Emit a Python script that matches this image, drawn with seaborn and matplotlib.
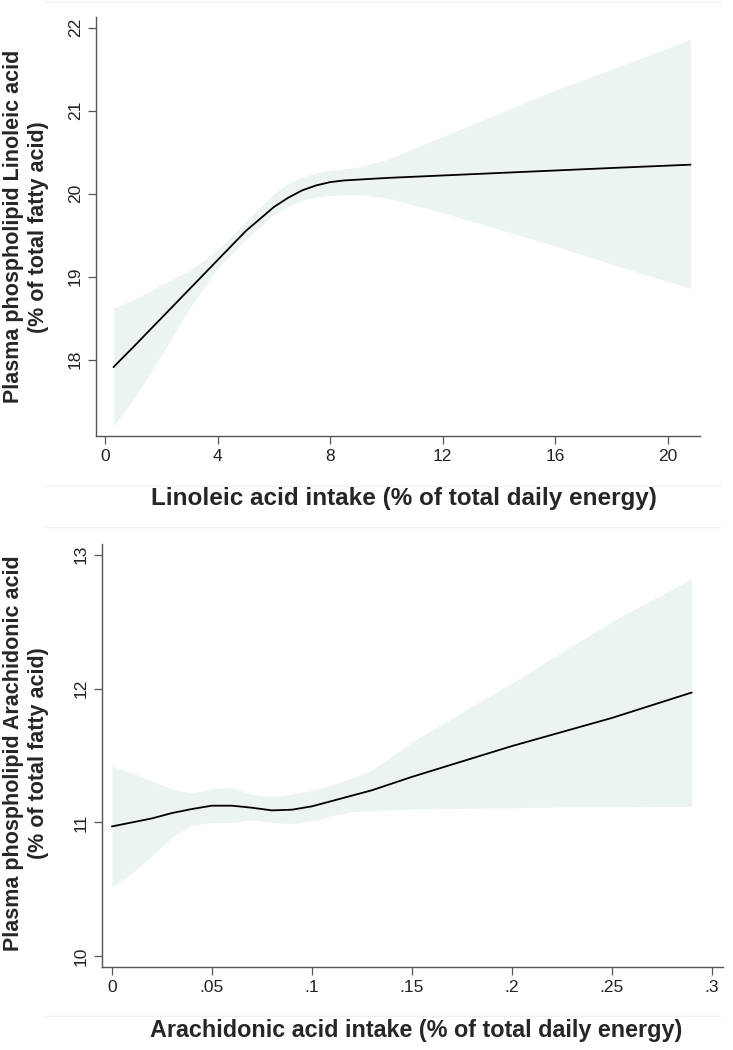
import numpy as np
import pandas as pd
import matplotlib
matplotlib.use('Agg')
import matplotlib.pyplot as plt
import seaborn as sns
from matplotlib.lines import Line2D

la_x = [0.3, 1.0, 2.0, 3.0, 4.0, 5.0, 6.0, 6.5, 7.0, 7.5, 8.0, 8.5, 9.0, 10.0, 12.0, 14.0, 16.0, 18.0, 20.8]
la_fit = [17.91, 18.15, 18.50, 18.85, 19.20, 19.55, 19.84, 19.95, 20.04, 20.10, 20.14, 20.16, 20.17, 20.19, 20.22, 20.25, 20.28, 20.31, 20.35]
la_upper = [18.62, 18.72, 18.90, 19.07, 19.32, 19.67, 20.00, 20.12, 20.20, 20.25, 20.28, 20.30, 20.32, 20.41, 20.69, 20.97, 21.25, 21.50, 21.86]
la_lower = [17.20, 17.52, 18.05, 18.62, 19.10, 19.45, 19.75, 19.85, 19.92, 19.96, 19.98, 19.99, 19.99, 19.95, 19.77, 19.57, 19.37, 19.15, 18.86]
la_xticks = [0, 4, 8, 12, 16, 20]
la_yticks = [18, 19, 20, 21, 22]

# Arachidonic acid panel
aa_x = [0, .01, .02, .03, .04, .05, .06, .07, .08, .09, .10, .11, .12, .13, .15, .175, .20, .225, .25, .27, .29]
aa_fit = [10.97, 11.00, 11.03, 11.07, 11.10, 11.125, 11.125, 11.11, 11.09, 11.095, 11.12, 11.16, 11.20, 11.24, 11.34, 11.455, 11.57, 11.675, 11.78, 11.875, 11.97]
aa_upper = [11.42, 11.37, 11.31, 11.25, 11.22, 11.25, 11.26, 11.21, 11.19, 11.21, 11.24, 11.28, 11.33, 11.39, 11.60, 11.82, 12.04, 12.27, 12.50, 12.66, 12.82]
aa_lower = [10.52, 10.62, 10.75, 10.89, 10.98, 11.00, 11.00, 11.02, 11.00, 10.99, 11.01, 11.05, 11.08, 11.09, 11.10, 11.105, 11.11, 11.115, 11.115, 11.12, 11.12]
aa_xticks = [0, .05, .1, .15, .2, .25, .3]
aa_xticklabels = ['0', '.05', '.1', '.15', '.2', '.25', '.3']
aa_yticks = [10, 11, 12, 13]

sns.set_style('ticks')
plt.rcParams['font.family'] = ['Liberation Sans', 'DejaVu Sans']

band_color = '#ebf3f3'
axis_color = '#555555'

fig = plt.figure(figsize=(7.33, 10.5), dpi=100)
ax1 = fig.add_axes([0.131, 0.5848, 0.824, 0.399])
ax2 = fig.add_axes([0.139, 0.079, 0.847, 0.403])


def draw_panel(ax, x, fit, lower, upper):
    ax.fill_between(x, lower, upper, color=band_color, linewidth=0)
    df = pd.DataFrame({'x': x, 'y': fit})
    sns.lineplot(data=df, x='x', y='y', ax=ax, color='black', linewidth=1.3)
    ax.set_xlabel('')
    ax.set_ylabel('')
    sns.despine(ax=ax)
    for s in ['left', 'bottom']:
        ax.spines[s].set_color(axis_color)
        ax.spines[s].set_linewidth(1.0)
    ax.tick_params(axis='both', direction='out', length=6, width=0.9,
                   color=axis_color, labelsize=12.5, labelcolor='#222222')


draw_panel(ax1, la_x, la_fit, la_lower, la_upper)
ax1.set_xlim(-0.32, 21.14)
ax1.set_ylim(17.08, 22.13)
ax1.set_xticks(la_xticks)
ax1.set_yticks(la_yticks)
ax1.set_yticklabels([str(v) for v in la_yticks], rotation=90, va='center')

draw_panel(ax2, aa_x, aa_fit, aa_lower, aa_upper)
ax2.set_xlim(-0.005, 0.3055)
ax2.set_ylim(9.92, 13.08)
ax2.set_xticks(aa_xticks)
ax2.set_xticklabels(aa_xticklabels)
ax2.set_yticks(aa_yticks)
ax2.set_yticklabels([str(v) for v in aa_yticks], rotation=90, va='center')

# axis titles
ylab_font = dict(fontsize=15.5, fontweight='bold', rotation=90, ha='center', va='center')
fig.text(0.019, 0.784, 'Plasma phospholipid Linoleic acid', **ylab_font)
fig.text(0.052, 0.784, '(% of total fatty acid)', **ylab_font)
fig.text(0.019, 0.283, 'Plasma phospholipid Arachidonic acid', **ylab_font)
fig.text(0.052, 0.283, '(% of total fatty acid)', **ylab_font)

xlab_font = dict(fontweight='bold', ha='center', va='center')
fig.text(0.551, 1 - 498 / 1050, 'Linoleic acid intake (% of total daily energy)',
         fontsize=17.5, **xlab_font)
fig.text(0.568, 1 - 1030 / 1050, 'Arachidonic acid intake (% of total daily energy)',
         fontsize=16.8, **xlab_font)

# faint graph-region borders
for yy in [2, 486, 527, 1016]:
    fig.add_artist(Line2D([45 / 733, 720 / 733], [1 - yy / 1050, 1 - yy / 1050],
                          color='#f0f0f0', linewidth=1.0))

fig.savefig('out.png', dpi=100)
